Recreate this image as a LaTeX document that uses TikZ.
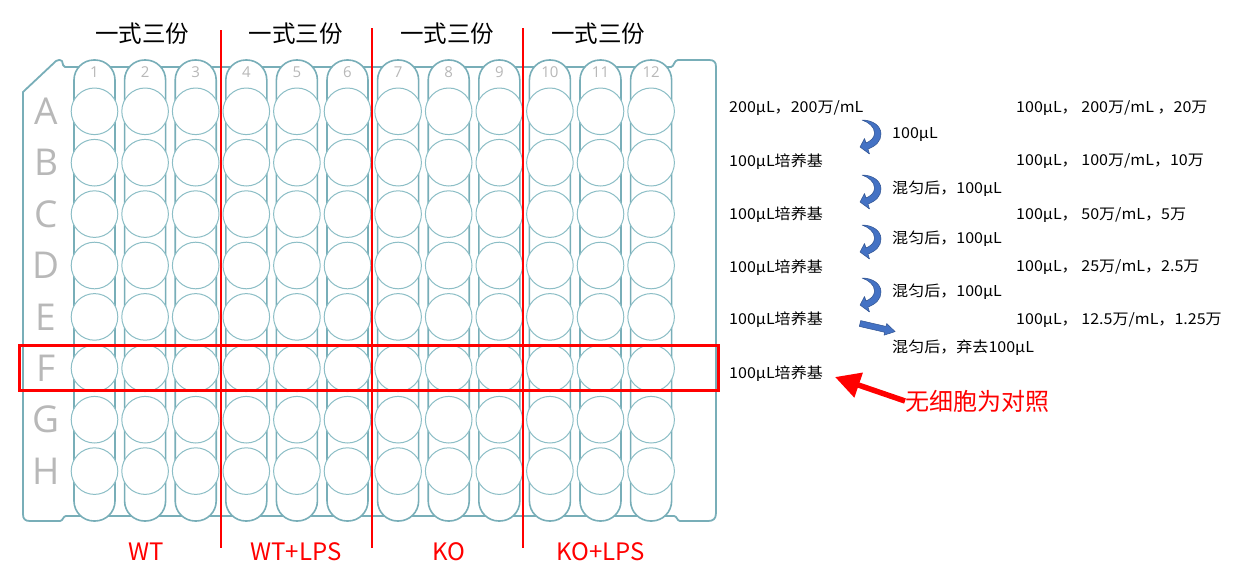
\documentclass[tikz,border=0pt]{standalone}
\usepackage{fontspec}
\setmainfont{Noto Sans CJK SC}
\newfontfamily\platefont{Open Sans}
\newfontfamily\notefont[FakeStretch=1.07]{Noto Sans CJK SC}
\usetikzlibrary{arrows.meta}
\definecolor{plateteal}{RGB}{120,174,184}
\definecolor{wellteal}{RGB}{140,190,198}
\definecolor{labelgray}{RGB}{184,184,184}
\definecolor{arrowblue}{RGB}{68,114,196}
\definecolor{arrowedge}{RGB}{47,82,143}
\tikzset{
  plate/.style={draw=plateteal, line width=1.8pt, line join=round},
  strip/.style={draw=plateteal, fill=white, line width=1.6pt, rounded corners=20pt},
  well/.style={draw=wellteal, fill=white, line width=1pt, circle, minimum size=46.6pt, inner sep=0pt, outer sep=0pt},
  rowlbl/.style={font=\platefont\fontsize{37}{37}\selectfont, text=labelgray, inner sep=0pt},
  collbl/.style={font=\platefont\fontsize{15}{15}\selectfont, text=labelgray, inner sep=0pt},
  title/.style={font=\fontsize{23.5}{24}\selectfont, inner sep=0pt},
  grouplbl/.style={font=\fontsize{24}{24}\selectfont, text=red, inner sep=0pt},
  note/.style={font=\notefont\fontsize{15}{16}\selectfont, anchor=west, inner sep=0pt},
  ctrlnote/.style={font=\fontsize{24}{24}\selectfont, text=red, anchor=west, inner sep=0pt},
  divider/.style={draw=red, line width=2pt},
  highlight/.style={draw=red, line width=3pt},
  bluearrow/.style={fill=arrowblue, draw=arrowedge, line width=0.5pt, line join=round},
  redarrow/.style={draw=red, line width=5.5pt, -{Triangle[length=25pt,width=25pt]}},
  curvarrow/.pic={
    \filldraw[bluearrow] (2,0) .. controls (13,0) and (21,6) .. (21,14)
      .. controls (21,21) and (16,26) .. (8,29) -- (9.5,34) -- (0,27) -- (4.5,18.5) -- (6,23)
      .. controls (10.5,21) and (14.5,18) .. (14.5,13)
      .. controls (14.5,7) and (9,2.5) .. (2,0) -- cycle;
  }
}
\begin{document}
\begin{tikzpicture}[x=1pt,y=-1pt]
\useasboundingbox (0,0) rectangle (1238,576);
% plate outline
\draw[plate] (65,67) -- (671,67) .. controls (674,67) and (674,60) .. (678,60) -- (709,60)
  .. controls (714,60) and (716,62) .. (716,67) -- (716,513)
  .. controls (716,519) and (713,521) .. (708,521) -- (680,521)
  .. controls (677,521) and (677,516) .. (674,516) -- (66,516)
  .. controls (63,516) and (63,521) .. (60,521) -- (30,521)
  .. controls (25,521) and (23,519) .. (23,514) -- (23,92) -- (56,61)
  .. controls (58,59.5) and (61,59.5) .. (62,61)
  .. controls (63,64) and (63,67) .. (65,67) -- cycle;
% strips and wells
\foreach \c in {1,...,12}{
  \pgfmathsetmacro{\cx}{94.5+(\c-1)*50.6}
  \draw[strip] (\cx-20.5,60) rectangle (\cx+20.5,521);
  \node[collbl] (num\c) at (\cx,72) {\c};
  \foreach \r/\L in {0/A,1/B,2/C,3/D,4/E,5/F,6/G,7/H}{
    \pgfmathsetmacro{\ry}{111.3+\r*51.4}
    \node[well] (w\L\c) at (\cx,\ry) {};
  }
}
\foreach \r/\L in {0/A,1/B,2/C,3/D,4/E,5/F,6/G,7/H}{
  \pgfmathsetmacro{\ry}{111.3+\r*51.4}
  \node[rowlbl] (row\L) at (46,\ry) {\L};
}
% titles
\node[title] (t1) at (142,34) {一式三份};
\node[title] (t2) at (295.5,34) {一式三份};
\node[title] (t3) at (447,34) {一式三份};
\node[title] (t4) at (598,34) {一式三份};
% group labels
\node[grouplbl] (g1) at (146,552) {WT};
\node[grouplbl] (g2) at (296,552) {WT+LPS};
\node[grouplbl] (g3) at (449,552) {KO};
\node[grouplbl] (g4) at (601,552) {KO+LPS};
% dividers
\coordinate (d1t) at (221,30); \coordinate (d1b) at (221,548);
\coordinate (d2t) at (372,28); \coordinate (d2b) at (372,548);
\coordinate (d3t) at (523,28); \coordinate (d3b) at (523,548);
\draw[divider] (d1t) -- (d1b);
\draw[divider] (d2t) -- (d2b);
\draw[divider] (d3t) -- (d3b);
% highlight row F
\draw[highlight] (19,345) rectangle (718,390);
% dilution notes
\node[note] (l1) at (729,108) {200μL，200万/mL};
\node[note] (l2) at (729,161.5) {100μL培养基};
\node[note] (l3) at (729,215) {100μL培养基};
\node[note] (l4) at (729,267.5) {100μL培养基};
\node[note] (l5) at (729,320) {100μL培养基};
\node[note] (l6) at (729,374) {100μL培养基};
\node[note] (r1) at (1016,108) {100μL，\ 200万/mL ，20万};
\node[note] (r2) at (1016,161.5) {100μL，\ 100万/mL，10万};
\node[note] (r3) at (1016,215) {100μL，\ 50万/mL，5万};
\node[note] (r4) at (1016,267.5) {100μL，\ 25万/mL，2.5万};
\node[note] (r5) at (1016,320) {100μL，\ 12.5万/mL，1.25万};
\node[note] (m1) at (892,134) {100μL};
\node[note] (m2) at (892,189) {混匀后，100μL};
\node[note] (m3) at (892,239) {混匀后，100μL};
\node[note] (m4) at (892,292) {混匀后，100μL};
\node[note] (m5) at (892,348) {混匀后，弃去100μL};
% blue arrows
\pic at (860,120) {curvarrow};
\pic at (860,175) {curvarrow};
\pic at (860,225) {curvarrow};
\pic at (860,278) {curvarrow};
\begin{scope}[shift={(860,323.5)}, rotate=-13]
  \filldraw[bluearrow] (0,-3) -- (26,-3) -- (26,-6) -- (36,0) -- (26,6) -- (26,3) -- (0,3) -- cycle;
\end{scope}
% control note
\node[ctrlnote] (ctrl) at (905,401) {无细胞为对照};
\coordinate (tip) at (835,377);
\draw[redarrow] (ctrl.west) -- (tip);
\end{tikzpicture}
\end{document}
